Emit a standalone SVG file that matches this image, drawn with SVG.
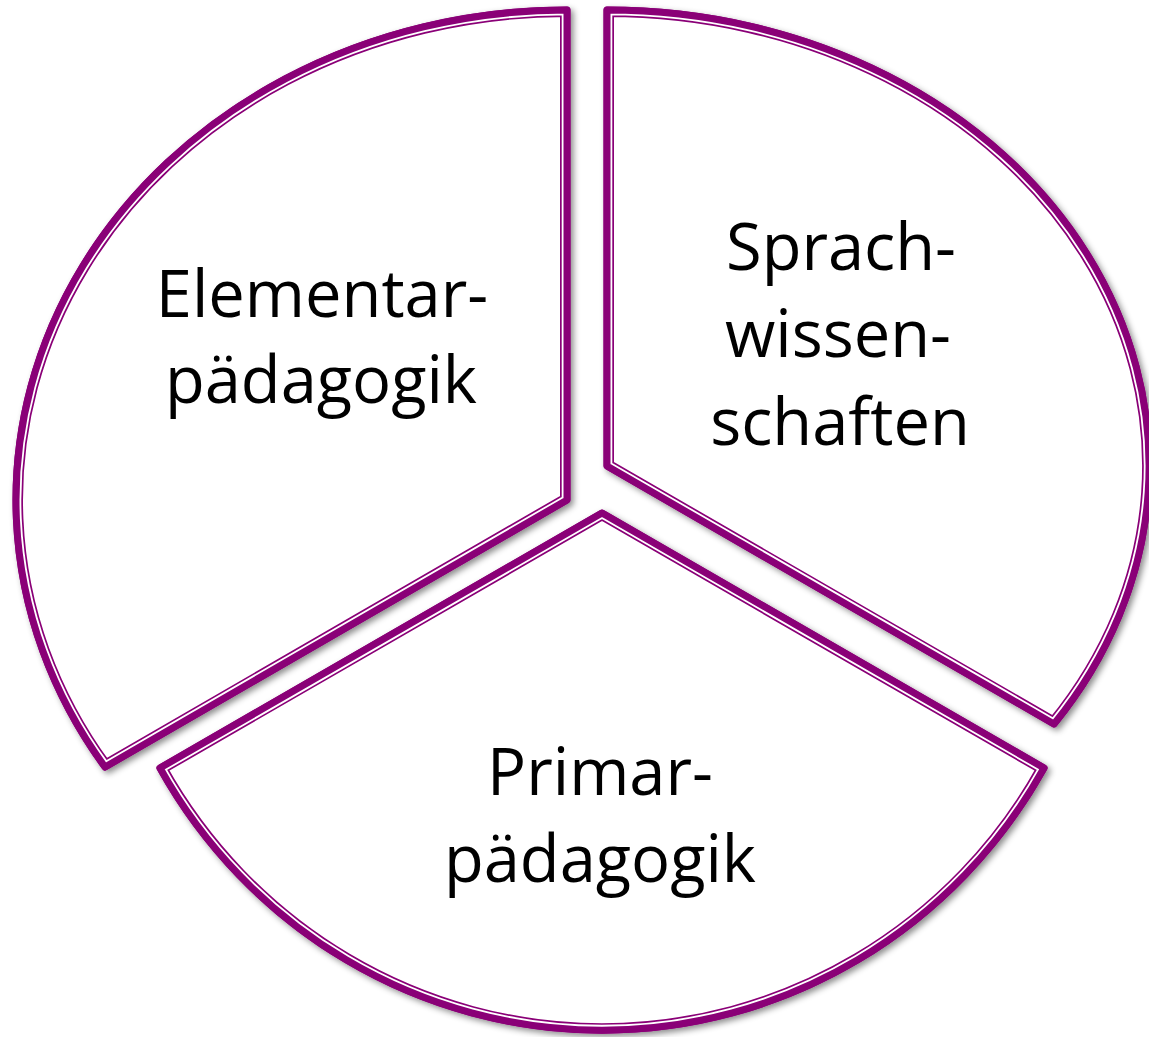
<svg xmlns="http://www.w3.org/2000/svg" xmlns:xlink="http://www.w3.org/1999/xlink" width="1149" height="1037" viewBox="0 0 1149 1037">
  <style>
    .fill { fill: #ffffff; }
    .b1 { fill: none; stroke: #8a0077; stroke-width: 14; }
    .b2 { fill: none; stroke: #ffffff; stroke-width: 10.6; }
    .b3 { fill: none; stroke: #8a0077; stroke-width: 7; stroke-linejoin: round; }
    .lbl { font-family: "Open Sans", "Liberation Sans", sans-serif; font-size: 65px; fill: #000000; text-anchor: middle; }
  </style>
  <defs>
    <filter id="sh" x="-10%" y="-10%" width="120%" height="120%">
      <feDropShadow dx="3" dy="3" stdDeviation="3" flood-color="#000000" flood-opacity="0.45"/>
    </filter>
    <path id="pL" d="M567,500 L567,10 A551,490 0 0 0 105,767 Z"/>
    <path id="pR" d="M607,466 L607,10 A542,456 0 0 1 1054,724 Z"/>
    <path id="pB" d="M602,513 L1044,768 A508,517 0 0 1 160,768 Z"/>
    <clipPath id="cL"><use xlink:href="#pL"/></clipPath>
    <clipPath id="cR"><use xlink:href="#pR"/></clipPath>
    <clipPath id="cB"><use xlink:href="#pB"/></clipPath>
  </defs>
  <rect width="1149" height="1037" fill="#ffffff"/>

  <g id="elementarpaedagogik">
    <g filter="url(#sh)">
      <use xlink:href="#pL" class="b3"/>
      <use xlink:href="#pL" class="fill"/>
    </g>
    <g clip-path="url(#cL)">
      <use xlink:href="#pL" class="b1"/>
      <use xlink:href="#pL" class="b2"/>
    </g>
    <use xlink:href="#pL" class="b3"/>
    <text class="lbl" x="322" y="317">Elementar-</text>
    <text class="lbl" x="321" y="403">pädagogik</text>
  </g>

  <g id="sprachwissenschaften">
    <g filter="url(#sh)">
      <use xlink:href="#pR" class="b3"/>
      <use xlink:href="#pR" class="fill"/>
    </g>
    <g clip-path="url(#cR)">
      <use xlink:href="#pR" class="b1"/>
      <use xlink:href="#pR" class="b2"/>
    </g>
    <use xlink:href="#pR" class="b3"/>
    <text class="lbl" x="841" y="270">Sprach-</text>
    <text class="lbl" x="838" y="357">wissen-</text>
    <text class="lbl" x="840" y="445">schaften</text>
  </g>

  <g id="primarpaedagogik">
    <g filter="url(#sh)">
      <use xlink:href="#pB" class="b3"/>
      <use xlink:href="#pB" class="fill"/>
    </g>
    <g clip-path="url(#cB)">
      <use xlink:href="#pB" class="b1"/>
      <use xlink:href="#pB" class="b2"/>
    </g>
    <use xlink:href="#pB" class="b3"/>
    <text class="lbl" x="600" y="795">Primar-</text>
    <text class="lbl" x="600" y="882">pädagogik</text>
  </g>
</svg>
